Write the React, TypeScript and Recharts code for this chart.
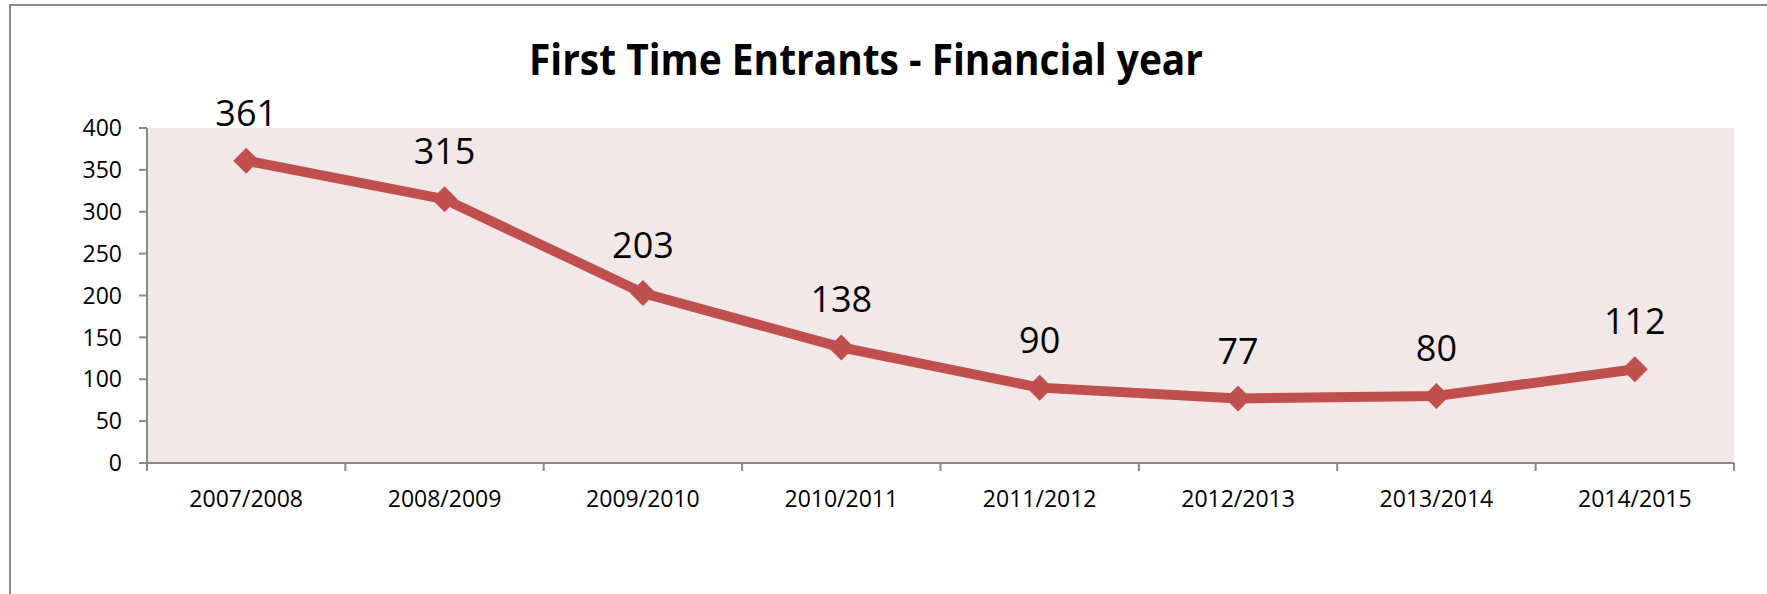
import React from 'react';
import { LineChart, Line, XAxis, YAxis, CartesianGrid, LabelList } from 'recharts';

const years = [
  '2007/2008',
  '2008/2009',
  '2009/2010',
  '2010/2011',
  '2011/2012',
  '2012/2013',
  '2013/2014',
  '2014/2015'
];
const entrants = [361, 315, 203, 138, 90, 77, 80, 112];
const yTicks = [0, 50, 100, 150, 200, 250, 300, 350, 400];

// each year sits in the middle of its own slot, boundaries get the tick marks
const data = years.map((year, i) => ({ year, slot: i + 0.5, entrants: entrants[i] }));
const xTicks = Array.from({ length: years.length * 2 + 1 }, (_, i) => i / 2);

const AXIS = '#898989';
const RED = '#C0504D';
const FONT = '"Open Sans", sans-serif';

const SlotTick = (props: any) => {
  const { x, y, payload } = props;
  const v = payload.value;
  if (Number.isInteger(v)) {
    return <line x1={x} x2={x} y1={y} y2={y + 8} stroke={AXIS} strokeWidth={2} />;
  }
  const label = years[Math.floor(v)];
  return (
    <text x={x} y={y + 35} textAnchor="middle" dominantBaseline="central" fontFamily={FONT} fontSize={23} fill="#000">
      {label}
    </text>
  );
};

const Diamond = (props: any) => {
  const { cx, cy } = props;
  if (cx == null || cy == null) return null;
  const r = 13;
  return (
    <polygon
      points={`${cx},${cy - r} ${cx + r},${cy} ${cx},${cy + r} ${cx - r},${cy}`}
      fill={RED}
      stroke="none"
    />
  );
};

const ValueLabel = (props: any) => {
  const { x, y, value } = props;
  return (
    <text x={x} y={y - 35} textAnchor="middle" fontFamily={FONT} fontSize={36} fill="#000">
      {value}
    </text>
  );
};

export default function App() {
  return (
    <div style={{ position: 'relative', width: 1767, height: 594, overflow: 'hidden', background: '#fff' }}>
      <style>{'body{margin:0}'}</style>
      <div
        style={{
          position: 'absolute',
          left: 9,
          top: 4,
          width: 2000,
          height: 1000,
          border: `2px solid ${AXIS}`
        }}
      />
      <div style={{ position: 'absolute', left: 0, top: 0 }}>
        <LineChart width={1767} height={594} data={data} margin={{ top: 128, right: 33, left: 87, bottom: 91 }}>
          <CartesianGrid fill="#F2E8E8" horizontal={false} vertical={false} stroke="none" />
          <XAxis
            type="number"
            dataKey="slot"
            domain={[0, years.length]}
            ticks={xTicks}
            interval={0}
            tick={<SlotTick />}
            tickLine={false}
            tickSize={0}
            tickMargin={0}
            height={40}
            axisLine={{ stroke: AXIS, strokeWidth: 2 }}
          />
          <YAxis
            domain={[0, 400]}
            ticks={yTicks}
            interval={0}
            width={60}
            tickSize={8}
            tickMargin={17}
            tick={{ fill: '#000', fontSize: 23, fontFamily: FONT }}
            tickLine={{ stroke: AXIS, strokeWidth: 2 }}
            axisLine={{ stroke: AXIS, strokeWidth: 2 }}
          />
          <Line
            type="linear"
            dataKey="entrants"
            stroke={RED}
            strokeWidth={10}
            dot={<Diamond />}
            activeDot={false}
            isAnimationActive={false}
          >
            <LabelList dataKey="entrants" content={<ValueLabel />} />
          </Line>
        </LineChart>
      </div>
      <svg width={1767} height={594} style={{ position: 'absolute', left: 0, top: 0, pointerEvents: 'none' }}>
        <text
          x={866}
          y={75}
          textAnchor="middle"
          fontFamily={FONT}
          fontWeight="bold"
          fontSize={43}
          textLength={674}
          lengthAdjust="spacingAndGlyphs"
          fill="#000"
        >
          First Time Entrants - Financial year
        </text>
      </svg>
    </div>
  );
}
